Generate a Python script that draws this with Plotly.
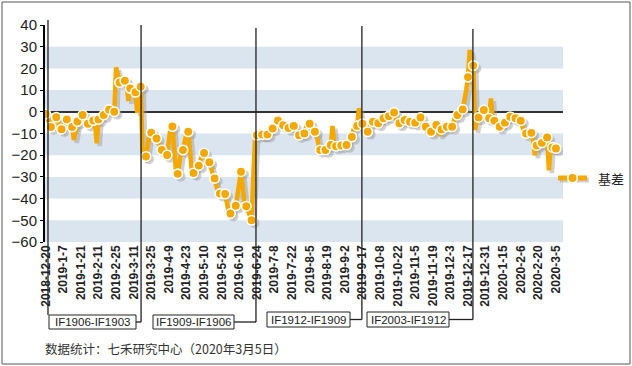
import plotly.graph_objects as go

# ---------------- data ----------------
tick_labels = ["2018-12-20", "2019-1-7", "2019-1-21", "2019-2-11", "2019-2-25", "2019-3-11",
               "2019-3-25", "2019-4-9", "2019-4-23", "2019-5-10", "2019-5-24", "2019-6-10",
               "2019-6-24", "2019-7-8", "2019-7-22", "2019-8-5", "2019-8-19", "2019-9-2",
               "2019-9-17", "2019-10-8", "2019-10-22", "2019-11-5", "2019-11-19", "2019-12-3",
               "2019-12-17", "2019-12-31", "2020-1-15", "2020-2-6", "2020-2-20", "2020-3-5"]
tick_step = 10  # one label every 10 trading days

# daily basis (trading-day index 0 = 2018-12-20)
basis = [
    -1, -3, -5, -7, -5, -2, -2.5, -5, -7, -8,
    -6, -4.5, -3.5, -5, -6, -7, -13, -7, -4.5, -3,
    -2, -1.5, -3, -4.5, -5.5, -5, -4, -4, -5, -14.5,
    -3.5, -2.5, -2, -1.5, 0, 0.5, 1, 0.5, 0, 0,
    20.5, 17, 13.5, 15, 14.5, 14.3, 12, 5, 10.8, 10,
    8.8, 9, -0.5, 8, 11.6, -18, -21, -20.6, -14, -10,
    -9.6, -11, -12.5, -12.3, -14, -16.5, -17.6, -18.5, -19.5, -19.9,
    -13, -7, -6.8, -18, -27, -28.6, -24, -18, -17.6, -14,
    -10, -9.2, -18, -27, -28.2, -26, -25, -24.8, -22, -19.5,
    -19, -21, -23, -23.2, -26, -29, -30.7, -34, -37, -37.7,
    -38, -37.5, -37.9, -42, -46, -46.9, -45, -43.5, -43.3, -38,
    -30, -27.6, -35, -42, -43.5, -46, -49, -50, -30, -12,
    -10.8, -9.5, -9.2, -10.5, -12.3, -11, -10.5, -9, -8, -7.7,
    -6.5, -6, -4, -3.6, -5.5, -6.2, -7, -7.5, -7.5, -7,
    -6.5, -6.5, -8.5, -10.5, -10.8, -10.5, -10, -10, -7, -5.7,
    -5.5, -7.5, -9, -9.2, -10.5, -15, -17.6, -17.5, -17.6, -17.6,
    -16, -15.3, -15.3, -6.5, -15, -15.9, -15.7, -15.5, -15.5, -15.3,
    -15.3, -15.3, -13, -12, -11.6, -8, -7, -6.5, 1.7, -5,
    -5.5, -7, -9, -9.2, -7, -5, -4.6, -5, -5.3, -5.3,
    -4, -3, -3, -2.5, -2, -2, -1, -0.3, -0.3, -3,
    -5, -5.3, -4.5, -3.8, -3.8, -4.2, -4.6, -4.6, -5, -5,
    -5, -3.5, -2.6, -2.6, -6.5, -7, -6.9, -9, -9.2, -9.2,
    -7, -6.1, -6.1, -8, -11, -8.1, -7, -6.9, -6.9, -6.9,
    -6.9, -6.9, -4, -1.5, -1.5, 0, 1.1, 1.1, 5, 10,
    16, 28.5, 23, 21.3, -8.4, -4, -2.6, -1, 0.8, 0.8,
    -2, -3, -3, 6.2, -3.5, -4.1, -5.5, -6.5, -6.9, -6,
    -5, -5, -3.5, -2.3, -2.3, -2.5, -3, -3, -3.5, -4,
    -4.1, -7, -10, -10, -10, -9.7, -9.7, -13, -20, -15.5,
    -15, -14.3, -14.3, -13, -11.8, -11.8, -27, -16, -16.4, -16.5,
    -16.9,
]
series_name = "基差"

# contract roll points (trading-day index) and their spread labels
roll_idx = [1.3, 54.2, 119.5, 179.7, 242.8]
roll_labels = ["IF1906-IF1903", "IF1909-IF1906", "IF1912-IF1909", "IF2003-IF1912"]

y_ticks = [-60, -50, -40, -30, -20, -10, 0, 10, 20, 30, 40]
caption = "数据统计：七禾研究中心（2020年3月5日）"

# ---------------- layout geometry ----------------
W, H = 632, 366
L, R, T, B = 45, 69, 25, 124
PW, PH = W - L - R, H - T - B
X0, X1 = -0.4, 294


def px_x(px):
    return (px - L) / PW


def px_y(py):
    return (T + PH - py) / PH


ORANGE = "#F5A800"
SHADOW = "rgba(150,150,150,0.45)"
n = len(basis)
xs = list(range(n))
mk = [i for i in xs if i % 3 == 0 or i == n - 1]

fig = go.Figure()

# shadow
fig.add_trace(go.Scatter(
    x=[i + 1.7 for i in xs], y=[v - 1.3 for v in basis], mode="lines",
    line=dict(color=SHADOW, width=4.5), hoverinfo="skip", showlegend=False))
fig.add_trace(go.Scatter(
    x=[i + 1.7 for i in mk], y=[basis[i] - 1.3 for i in mk], mode="markers",
    marker=dict(color=SHADOW, size=10), hoverinfo="skip", showlegend=False))
# main line
fig.add_trace(go.Scatter(
    x=xs, y=basis, mode="lines", line=dict(color=ORANGE, width=4.5),
    showlegend=False, name=series_name))
fig.add_trace(go.Scatter(
    x=mk, y=[basis[i] for i in mk], mode="markers",
    marker=dict(color=ORANGE, size=9.5, line=dict(color="white", width=1.6)),
    showlegend=False, name=series_name))

shapes = []
# alternating bands
for lo in [20, 0, -20, -40, -60]:
    shapes.append(dict(type="rect", xref="paper", yref="y", x0=0, x1=1, y0=lo, y1=lo + 10,
                       fillcolor="#DAE5F0", line=dict(width=0), layer="below"))

# roll lines & label boxes
tops = [20, 25, 28, 26, 29]
boxes = [(49, 315, 136, 329), (153, 315, 234, 329), (267, 312, 350, 327), (367, 312, 449, 327)]
annotations = []
shapes.append(dict(type="line", xref="x", yref="paper", x0=roll_idx[0], x1=roll_idx[0],
                   y0=px_y(tops[0]), y1=px_y(boxes[0][1]), line=dict(color="#222", width=1.3)))
for k, (bx0, by0, bx1, by1) in enumerate(boxes):
    ym = (by0 + by1) / 2
    ri = roll_idx[k + 1]
    shapes.append(dict(type="line", xref="x", yref="paper", x0=ri, x1=ri,
                       y0=px_y(tops[k + 1]), y1=px_y(ym), line=dict(color="#222", width=1.3)))
    xr = L + (ri - X0) * PW / (X1 - X0)
    shapes.append(dict(type="line", xref="paper", yref="paper", x0=px_x(bx1), x1=px_x(xr),
                       y0=px_y(ym), y1=px_y(ym), line=dict(color="#222", width=1.3)))
    shapes.append(dict(type="rect", xref="paper", yref="paper", x0=px_x(bx0), x1=px_x(bx1),
                       y0=px_y(by1), y1=px_y(by0), fillcolor="white",
                       line=dict(color="#222", width=1)))
    annotations.append(dict(xref="paper", yref="paper", x=px_x((bx0 + bx1) / 2), y=px_y(ym),
                            text=roll_labels[k], showarrow=False, xanchor="center", yanchor="middle",
                            font=dict(family="Liberation Sans", size=11.5, color="#222")))

# legend (drawn manually)
lx0, lx1, ly, lmx, lr = 558, 587, 178, 572.5, 4.8
shapes.append(dict(type="line", xref="paper", yref="paper", x0=px_x(lx0 + 2), x1=px_x(lx1 + 2),
                   y0=px_y(ly + 2), y1=px_y(ly + 2), line=dict(color=SHADOW, width=5)))
shapes.append(dict(type="line", xref="paper", yref="paper", x0=px_x(lx0), x1=px_x(lx1),
                   y0=px_y(ly), y1=px_y(ly), line=dict(color=ORANGE, width=5)))
shapes.append(dict(type="circle", xref="paper", yref="paper",
                   x0=px_x(lmx - lr), x1=px_x(lmx + lr), y0=px_y(ly + lr), y1=px_y(ly - lr),
                   fillcolor=ORANGE, line=dict(color="white", width=1.6)))
annotations.append(dict(xref="paper", yref="paper", x=px_x(596), y=px_y(ly), text=series_name,
                        showarrow=False, xanchor="left", yanchor="middle",
                        font=dict(family="Noto Sans CJK SC", size=13, color="#222")))

# outer border
shapes.append(dict(type="rect", xref="paper", yref="paper", x0=px_x(2), x1=px_x(630),
                   y0=px_y(364), y1=px_y(2), line=dict(color="#555", width=1)))

annotations.append(dict(xref="paper", yref="paper", x=px_x(43), y=px_y(348), text=caption,
                        showarrow=False, xanchor="left", yanchor="middle",
                        font=dict(family="Noto Sans CJK SC", size=12.5, color="#333")))

fig.update_layout(
    width=W, height=H, margin=dict(l=L, r=R, t=T, b=B),
    paper_bgcolor="white", plot_bgcolor="white",
    shapes=shapes, annotations=annotations,
    showlegend=False,
    xaxis=dict(range=[X0, X1], tickmode="array",
               tickvals=[k * tick_step for k in range(len(tick_labels))], ticktext=tick_labels,
               tickangle=-90, showgrid=False, zeroline=False, showline=False, ticks="",
               tickfont=dict(family="Liberation Sans", size=12, color="#222", weight="bold"),
               fixedrange=True),
    yaxis=dict(range=[-60, 40], tickmode="array", tickvals=y_ticks, showgrid=False,
               zeroline=True, zerolinecolor="#333", zerolinewidth=1.5,
               showline=True, linecolor="black", linewidth=2, ticks="outside", ticklen=3,
               tickcolor="black", tickfont=dict(family="Liberation Sans", size=15, color="#222"),
               fixedrange=True),
)

fig.write_html("out.html", config={"displayModeBar": False},
               post_script="document.body.style.margin='0px';")
